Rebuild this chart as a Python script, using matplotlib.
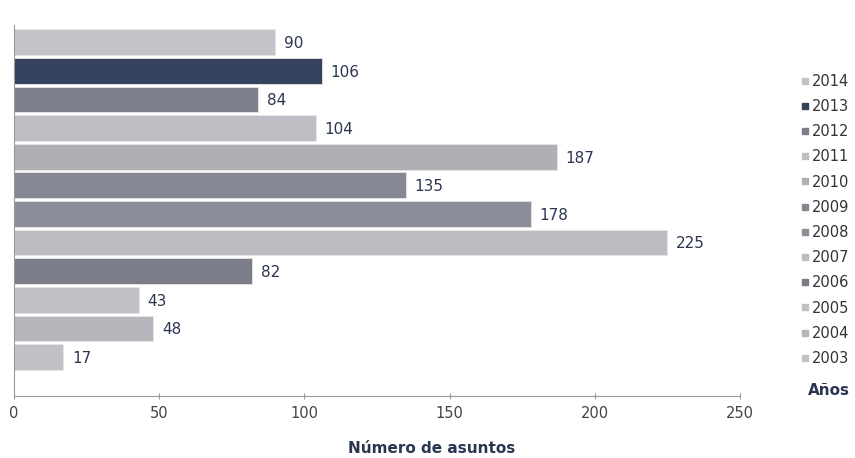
import matplotlib
matplotlib.use('Agg')
import matplotlib.pyplot as plt
from matplotlib.lines import Line2D

# data, top to bottom as in the chart
years = ['2014', '2013', '2012', '2011', '2010', '2009', '2008', '2007', '2006', '2005', '2004', '2003']
asuntos = [90, 106, 84, 104, 187, 135, 178, 225, 82, 43, 48, 17]
colores = ['#c3c4c8', '#35435f', '#7d808b', '#bdbec3', '#aeb0b6', '#858893',
           '#8b8e99', '#bcbdc2', '#7b7e89', '#c0c1c5', '#b5b7bc', '#c0c1c5']

navy = '#2a3550'

fig = plt.figure(figsize=(8.55, 4.58), dpi=100)
ax = fig.add_axes([0.0164, 0.1354, 0.8491, 0.81])

n = len(years)
ypos = [n - 1 - i for i in range(n)]
ax.barh(ypos, asuntos, height=0.9, color=colores, edgecolor='#e6e6e8', linewidth=0.6)

for y, v in zip(ypos, asuntos):
    ax.text(v + 3, y - 0.05, str(v), va='center', ha='left', fontsize=11, color=navy)

ax.set_xlim(0, 250)
ax.set_ylim(-1.36, 11.6)
ax.set_xticks([0, 50, 100, 150, 200, 250])
ax.set_yticks([])
ax.tick_params(axis='x', colors='#9a9a9a', labelcolor='#444444', labelsize=10.5,
               length=4, direction='inout', pad=5)
for s in ['top', 'right']:
    ax.spines[s].set_visible(False)
ax.spines['bottom'].set_color('#9a9a9a')
ax.spines['left'].set_color('#9a9a9a')

fig.text(0.505, 0.005, 'Número de asuntos', ha='center', va='bottom',
         fontsize=11, fontweight='bold', color=navy)

handles = [Line2D([], [], marker='s', linestyle='', markersize=5,
                  markerfacecolor=c, markeredgecolor=c) for c in colores]
leg = fig.legend(handles, years, loc='upper left', bbox_to_anchor=(0.928, 0.855),
                 frameon=False, fontsize=10.5, handlelength=0.6, handletextpad=0.15,
                 labelspacing=0.7, borderpad=0, labelcolor='#333333')
fig.text(0.945, 0.148, 'Años', ha='left', va='center', fontsize=11,
         fontweight='bold', color=navy)

fig.savefig('out.png', dpi=100)
